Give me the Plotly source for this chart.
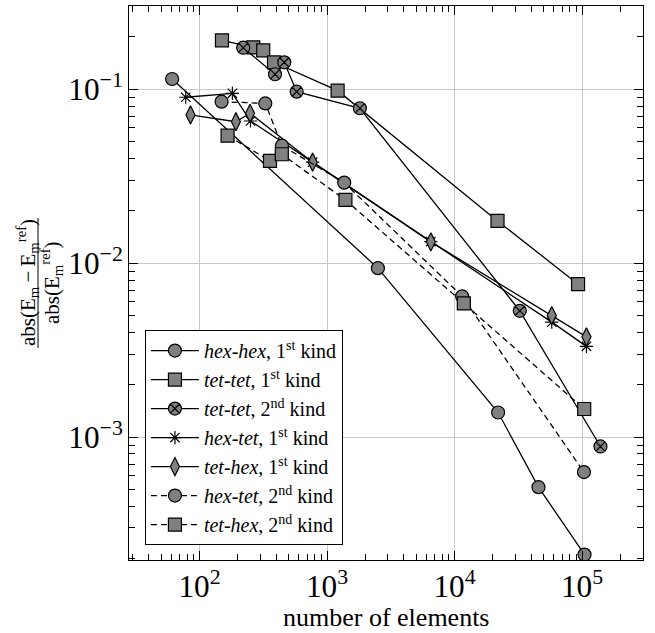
import plotly.graph_objects as go

# ---- data ----
hexhex1_x = [61, 2506, 21970, 45530, 104600]
hexhex1_y = [0.1146, 0.00936, 0.001384, 0.000515, 0.000211]

tettet1_x = [150, 264, 316, 384, 1211, 21730, 93050]
tettet1_y = [0.1912, 0.1743, 0.1675, 0.1429, 0.0982, 0.0175, 0.00757]

tettet2_x = [220, 391, 462, 578, 1810, 32500, 139400]
tettet2_y = [0.1734, 0.1220, 0.1429, 0.0969, 0.0778, 0.00532, 0.000883]

hextet1_x = [78, 181, 251, 771, 6521, 57880, 108300]
hextet1_y = [0.0900, 0.0948, 0.0657, 0.0381, 0.01331, 0.004581, 0.003324]

tethex1_x = [85, 193, 249, 771, 6521, 57880, 108300]
tethex1_y = [0.0712, 0.0651, 0.0728, 0.0381, 0.01326, 0.0050, 0.00377]

hextet2_x = [149, 328, 443, 1364, 11470, 103500]
hextet2_y = [0.0849, 0.0829, 0.0474, 0.02905, 0.00645, 0.000629]

tethex2_x = [166, 357, 442, 1394, 11830, 104000]
tethex2_y = [0.0541, 0.0388, 0.0423, 0.0231, 0.00587, 0.00145]

series = [
    ("<i>hex-hex</i>, 1<sup>st</sup> kind", hexhex1_x, hexhex1_y, "circle", "solid"),
    ("<i>tet-tet</i>, 1<sup>st</sup> kind", tettet1_x, tettet1_y, "square", "solid"),
    ("<i>tet-tet</i>, 2<sup>nd</sup> kind", tettet2_x, tettet2_y, "circle-x", "solid"),
    ("<i>hex-tet</i>, 1<sup>st</sup> kind", hextet1_x, hextet1_y, "asterisk-open", "solid"),
    ("<i>tet-hex</i>, 1<sup>st</sup> kind", tethex1_x, tethex1_y, "diamond-tall", "solid"),
    ("<i>hex-tet</i>, 2<sup>nd</sup> kind", hextet2_x, hextet2_y, "circle", "6px,4px"),
    ("<i>tet-hex</i>, 2<sup>nd</sup> kind", tethex2_x, tethex2_y, "square", "6px,4px"),
]

FONT = "Liberation Serif, Times New Roman, serif"
fig = go.Figure()
for name, xs, ys, sym, dash in series:
    size = 13
    color = "#808080"
    if sym == "asterisk-open":
        size = 11
        color = "black"
    fig.add_trace(go.Scatter(
        x=xs, y=ys, name=name, mode="lines+markers",
        line=dict(color="black", width=1.3, dash=dash),
        marker=dict(symbol=sym, size=size, color=color,
                    line=dict(color="black", width=1.2)),
    ))

axis_common = dict(
    type="log", showline=True, linecolor="black", linewidth=1.3, mirror="allticks",
    ticks="inside", ticklen=9, tickcolor="black", tickwidth=1,
    showgrid=True, gridcolor="#c8c8c8", gridwidth=1,
    dtick=1, exponentformat="power", zeroline=False,
    tickfont=dict(family=FONT, size=25, color="black"),
    minor=dict(ticks="inside", ticklen=6, tickcolor="black", dtick="D1", showgrid=False),
)

fig.update_layout(
    width=655, height=633,
    margin=dict(l=129, r=12, t=6, b=73),
    paper_bgcolor="white", plot_bgcolor="white",
    font=dict(family=FONT, color="black"),
    xaxis=dict(range=[1.447, 5.478], **axis_common),
    yaxis=dict(range=[-3.707, -0.521], **axis_common),
    legend=dict(
        x=0.031, y=0.415, xanchor="left", yanchor="top",
        bordercolor="black", borderwidth=1, bgcolor="white",
        font=dict(family=FONT, size=20, color="black"),
        tracegroupgap=0, itemwidth=48,
    ),
    showlegend=True,
)

# x-axis title
fig.add_annotation(
    text="number of elements", xref="paper", yref="paper",
    x=0.5, y=(560 - 617) / 554, xanchor="center", yanchor="middle",
    showarrow=False, font=dict(family=FONT, size=26, color="black"),
)
# y-axis title as a fraction
fig.add_annotation(
    text="abs(E<sub>m</sub>\u2009\u2212\u2009E<sub>m</sub><sup>ref</sup>)",
    xref="paper", yref="paper", x=(27 - 129) / 514, y=0.5,
    xanchor="center", yanchor="middle", textangle=-90, showarrow=False,
    font=dict(family=FONT, size=21, color="black"),
)
fig.add_annotation(
    text="abs(E<sub>m</sub><sup>ref</sup>)",
    xref="paper", yref="paper", x=(51 - 129) / 514, y=0.5,
    xanchor="center", yanchor="middle", textangle=-90, showarrow=False,
    font=dict(family=FONT, size=21, color="black"),
)
fig.add_shape(
    type="line", xref="paper", yref="paper",
    x0=(38 - 129) / 514, x1=(38 - 129) / 514,
    y0=(560 - 348) / 554, y1=(560 - 218) / 554,
    line=dict(color="black", width=1),
)

fig.write_html("out.html", config={"displayModeBar": False},
               post_script="document.body.style.margin='0px';")
